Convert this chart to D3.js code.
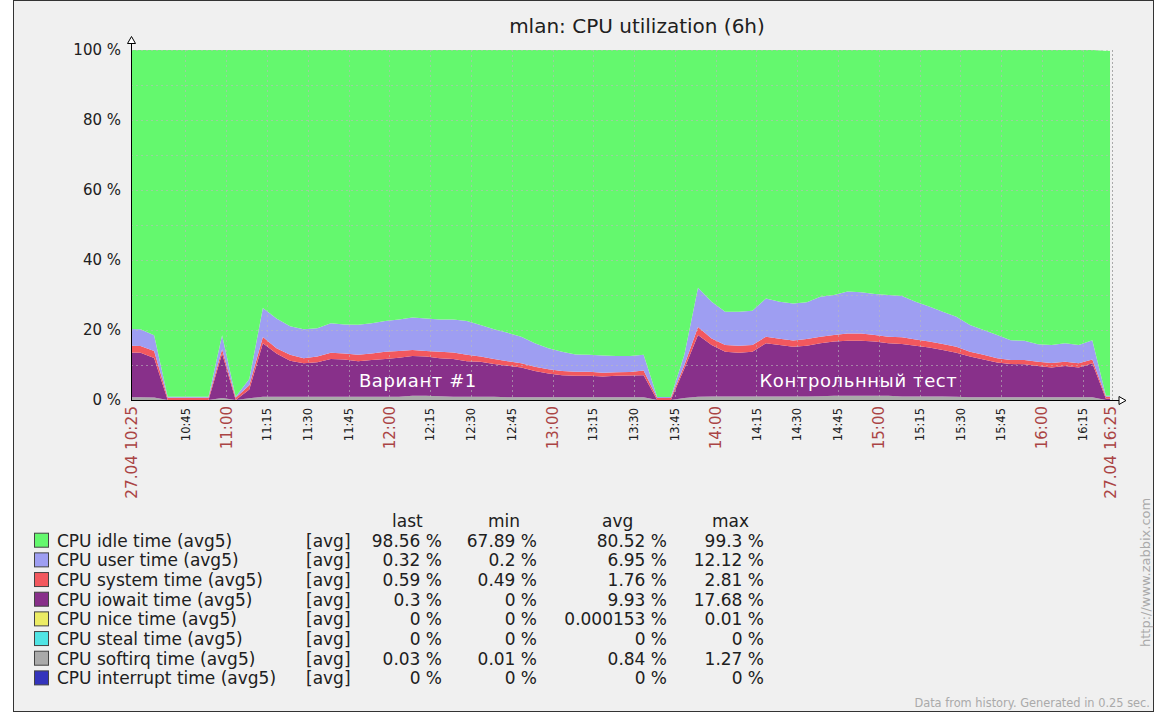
<!DOCTYPE html>
<html>
<head>
<meta charset="utf-8">
<script src="https://cdn.jsdelivr.net/npm/d3@7"></script>
<style>
  body { margin: 0; background: #ffffff; }
  svg { display: block; font-family: "DejaVu Sans", sans-serif; }
</style>
</head>
<body>
<svg id="chart" width="1156" height="715"></svg>
<script>
// ---------------- DATA ----------------
const title = "mlan: CPU utilization (6h)";
const day = "2013-04-27 ";
const rangeStart = "10:25:00";
const rangeEnd = "16:25:00";
const edgeLabels = ["27.04 10:25", "27.04 16:25"];

const times = [
  "10:23:30","10:28:30","10:33:30","10:38:30","10:43:30","10:48:30","10:53:30","10:58:30","11:03:30","11:08:30",
  "11:13:30","11:18:30","11:23:30","11:28:30","11:33:30","11:38:30","11:43:30","11:48:30","11:53:30","11:58:30",
  "12:03:30","12:08:30","12:13:30","12:18:30","12:23:30","12:28:30","12:33:30","12:38:30","12:43:30","12:48:30",
  "12:53:30","12:58:30","13:03:30","13:08:30","13:13:30","13:18:30","13:23:30","13:28:30","13:33:30","13:38:30",
  "13:43:30","13:48:30","13:53:30","13:58:30","14:03:30","14:08:30","14:13:30","14:18:30","14:23:30","14:28:30",
  "14:33:30","14:38:30","14:43:30","14:48:30","14:53:30","14:58:30","15:03:30","15:08:30","15:13:30","15:18:30",
  "15:23:30","15:28:30","15:33:30","15:38:30","15:43:30","15:48:30","15:53:30","15:58:30","16:03:30","16:08:30",
  "16:13:30","16:18:30","16:23:30","16:25:00"
];

const softirq = [
  0.8,0.8,0.7,0.03,0.03,0.03,0.03,0.6,0.03,0.5,
  0.9,0.9,0.9,0.9,0.9,0.9,0.9,0.9,0.9,0.9,
  0.9,1.2,1.25,1.1,0.9,0.9,0.9,0.9,0.8,0.8,
  0.8,0.8,0.8,0.8,0.8,0.8,0.8,0.8,0.8,0.03,
  0.03,0.6,0.9,1.0,1.0,1.0,1.0,1.0,1.0,1.0,
  1.0,1.1,1.2,1.25,1.25,1.2,1.2,1.0,1.0,1.0,
  1.0,0.9,0.8,0.8,0.8,0.8,0.8,0.8,0.8,0.8,
  0.8,0.8,0.03,0.03
];
const iowait = [
  12.8,12.7,11.3,0,0,0,0,12.7,0,2.5,
  15.3,12.4,10.3,9.6,9.9,10.8,10.7,10.2,10.5,10.8,
  11.2,11.4,11.15,10.8,10.8,10.2,10.0,9.4,9.0,8.5,
  7.5,6.8,6.3,6.1,6.1,5.9,6.1,6.2,6.3,0,
  0,8.4,17.68,14.7,12.8,12.5,12.8,15.2,14.7,14.2,
  14.5,15.1,15.5,15.65,15.65,15.5,15.0,15.0,14.5,14.0,
  13.3,12.6,11.6,10.8,9.9,9.5,9.4,8.9,8.5,8.9,
  8.5,9.7,0.3,0.3
];
const system = [
  1.9,1.9,2.0,0.6,0.6,0.6,0.6,1.2,0.6,1.2,
  1.8,1.5,1.7,1.4,1.6,1.8,1.7,1.8,1.9,2.1,
  1.9,1.7,1.6,1.9,1.9,1.8,1.5,1.4,1.3,1.2,
  1.2,1.2,1.2,1.2,1.2,1.1,1.0,1.0,1.3,0.55,
  0.55,1.0,2.3,1.9,1.9,2.0,1.9,1.9,1.8,1.8,
  1.9,1.9,1.9,2.1,2.1,1.9,1.9,1.9,1.8,1.7,
  1.7,1.7,1.4,1.3,1.2,1.1,1.2,1.2,1.3,1.2,
  1.2,1.1,0.59,0.59
];
const user = [
  4.8,4.8,4.5,0.3,0.3,0.3,0.3,4.0,0.3,1.8,
  8.3,8.5,8.2,8.3,8.1,8.4,8.3,8.6,8.6,8.8,
  9.0,9.3,9.3,9.2,9.4,9.7,9.0,8.5,8.1,7.6,
  6.7,6.0,5.5,4.9,4.8,4.9,4.7,4.6,4.5,0.3,
  0.3,3.0,11.2,10.5,9.5,9.7,9.8,10.9,10.6,10.6,
  10.5,11.4,11.4,12.0,11.8,11.7,11.9,11.8,10.8,10.0,
  9.2,8.6,7.6,7.1,6.7,5.7,5.5,5.0,5.1,5.3,
  5.2,5.5,0.32,0.32
];
const idle = [
  79.7,79.8,81.5,99.1,99.1,99.1,99.1,81.5,99.1,94.0,
  73.7,76.7,78.9,79.8,79.5,78.1,78.4,78.5,78.1,77.4,
  77.0,76.4,76.7,77.0,77.0,77.4,78.6,79.8,80.8,81.9,
  83.8,85.2,86.2,87.0,87.1,87.3,87.4,87.4,87.1,99.1,
  99.1,87.0,67.9,71.9,74.8,74.8,74.5,71.0,71.9,72.4,
  72.1,70.5,70.0,69.0,69.2,69.7,70.0,70.3,71.9,73.3,
  74.8,76.2,78.6,80.0,81.4,82.9,83.1,84.1,84.3,83.8,
  84.3,82.9,98.56,98.56
];

const timeTicks = ["10:45","11:00","11:15","11:30","11:45","12:00","12:15","12:30","12:45","13:00",
  "13:15","13:30","13:45","14:00","14:15","14:30","14:45","15:00","15:15","15:30","15:45","16:00","16:15"];
const yTicks = [0, 20, 40, 60, 80, 100];
const yGrid = [10, 20, 30, 40, 50, 60, 70, 80, 90, 100];

const legendNames = ["CPU idle time (avg5)","CPU user time (avg5)","CPU system time (avg5)","CPU iowait time (avg5)",
  "CPU nice time (avg5)","CPU steal time (avg5)","CPU softirq time (avg5)","CPU interrupt time (avg5)"];
const legendLast = [98.56, 0.32, 0.59, 0.3, 0, 0, 0.03, 0];
const legendMin  = [67.89, 0.2, 0.49, 0, 0, 0, 0.01, 0];
const legendAvg  = [80.52, 6.95, 1.76, 9.93, 0.000153, 0, 0.84, 0];
const legendMax  = [99.3, 12.12, 2.81, 17.68, 0.01, 0, 1.27, 0];
const legendColors = ["#64F86E","#9E9EF2","#F2585E","#88308A","#ECEC64","#50E4E4","#AAAAAA","#3434BC"];

const annotations = [
  { text: "Вариант #1", at: "12:10:30" },
  { text: "Контрольнный тест", at: "14:52:30" }
];

// ---------------- CHART ----------------
const svg = d3.select("#chart");
const parse = d3.timeParse("%Y-%m-%d %H:%M:%S");
const L = 131, R = 1110, T = 50, B = 400;

const x = d3.scaleTime().domain([parse(day + rangeStart), parse(day + rangeEnd)]).range([L, R]);
const y = d3.scaleLinear().domain([0, 100]).range([B, T]);

// frame
svg.append("rect").attr("x", 13.5).attr("y", 0.5).attr("width", 1140).attr("height", 711)
  .attr("fill", "#F0F0F0").attr("stroke", "#333");

// title
svg.append("text").attr("x", 637).attr("y", 33).attr("text-anchor", "middle")
  .attr("font-size", 20).attr("fill", "#202020").text(title);

// plot background
svg.append("rect").attr("x", L).attr("y", T).attr("width", R - L).attr("height", B - T).attr("fill", "#fff");

svg.append("clipPath").attr("id", "clip").append("rect")
  .attr("x", L).attr("y", T).attr("width", R - L).attr("height", B - T);

const rows = times.map((t, i) => ({
  t: parse(day + t), softirq: softirq[i], iowait: iowait[i], system: system[i], user: user[i], idle: idle[i]
}));
const keys = ["softirq", "iowait", "system", "user", "idle"];
const colorOf = { idle: legendColors[0], user: legendColors[1], system: legendColors[2], iowait: legendColors[3], softirq: legendColors[6] };
const stacked = d3.stack().keys(keys)(rows);
const area = d3.area().x(d => x(d.data.t)).y0(d => y(d[0])).y1(d => y(d[1]));

svg.append("g").attr("clip-path", "url(#clip)")
  .selectAll("path").data(stacked).join("path")
  .attr("d", area).attr("fill", d => colorOf[d.key]);

// grid
const grid = svg.append("g").attr("stroke", "#bbbbbb").attr("stroke-opacity", 0.6)
  .attr("stroke-dasharray", "2,3").attr("shape-rendering", "crispEdges");
grid.selectAll("line.h").data(yGrid).join("line")
  .attr("x1", L).attr("x2", R).attr("y1", d => Math.round(y(d)) + 0.5).attr("y2", d => Math.round(y(d)) + 0.5);
grid.selectAll("line.v").data(timeTicks).join("line")
  .attr("x1", d => Math.round(x(parse(day + d + ":00"))) + 0.5).attr("x2", d => Math.round(x(parse(day + d + ":00"))) + 0.5)
  .attr("y1", T).attr("y2", B);
svg.append("line").attr("x1", R + 2.5).attr("x2", R + 2.5).attr("y1", T).attr("y2", B)
  .attr("stroke", "#aaa").attr("stroke-dasharray", "2,2");

// annotations
svg.append("g").selectAll("text").data(annotations).join("text")
  .attr("x", d => x(parse(day + d.at))).attr("y", 387).attr("text-anchor", "middle")
  .attr("font-size", 18).attr("letter-spacing", 0.6).attr("fill", "#ffffff").text(d => d.text);

// axes
const ax = svg.append("g").attr("stroke", "#000").attr("fill", "none");
ax.append("line").attr("x1", L + 0.5).attr("x2", L + 0.5).attr("y1", B + 0.5).attr("y2", 43);
ax.append("line").attr("x1", L).attr("x2", 1119).attr("y1", B + 0.5).attr("y2", B + 0.5);
ax.append("path").attr("d", `M${L - 3.5},43.5 L${L + 4.5},43.5 L${L + 0.5},36.5 Z`).attr("fill", "#fff");
ax.append("path").attr("d", `M1119,396.5 L1119,404.5 L1126,400.5 Z`).attr("fill", "#fff");

// y labels
svg.append("g").selectAll("text").data(yTicks).join("text")
  .attr("x", 121).attr("y", d => y(d)).attr("dy", "0.36em").attr("text-anchor", "end")
  .attr("font-size", 15).attr("fill", "#202020").text(d => d + " %");

// x labels
const xl = svg.append("g");
xl.selectAll("text").data(timeTicks).join("text")
  .attr("transform", d => `translate(${x(parse(day + d + ":00"))},${d.endsWith(":00") ? 406 : 408}) rotate(-90)`)
  .attr("text-anchor", "end").attr("dy", "0.36em")
  .attr("font-size", d => d.endsWith(":00") ? 15 : 11.5)
  .attr("fill", d => d.endsWith(":00") ? "#AA4444" : "#202020")
  .text(d => d);
xl.selectAll("text.edge").data(edgeLabels).join("text").attr("class", "edge")
  .attr("transform", (d, i) => `translate(${x(parse(day + (i === 0 ? rangeStart : rangeEnd)))},406) rotate(-90)`)
  .attr("text-anchor", "end").attr("dy", "0.36em")
  .attr("font-size", 15.3).attr("fill", "#AA4444").text(d => d);

// legend
const lg = svg.append("g").attr("font-size", 17).attr("fill", "#202020");
const headers = [["last", 392], ["min", 488], ["avg", 602], ["max", 712]];
lg.selectAll("text.hd").data(headers).join("text").attr("class", "hd")
  .attr("x", d => d[1]).attr("y", 526.5).text(d => d[0]);
const rowY = i => 546.7 + 19.67 * i;
const lrow = lg.selectAll("g.row").data(legendNames).join("g").attr("class", "row");
lrow.append("rect").attr("x", 34.5).attr("y", (d, i) => rowY(i) - 13.5).attr("width", 14).attr("height", 14)
  .attr("fill", (d, i) => legendColors[i]).attr("stroke", "#444");
lrow.append("text").attr("x", 57).attr("y", (d, i) => rowY(i)).text(d => d);
lrow.append("text").attr("x", 306).attr("y", (d, i) => rowY(i)).text("[avg]");
const cols = [[legendLast, 442], [legendMin, 537], [legendAvg, 667], [legendMax, 764]];
cols.forEach(([arr, cx]) => {
  lrow.append("text").attr("x", cx).attr("y", (d, i) => rowY(i)).attr("text-anchor", "end")
    .text((d, i) => arr[i] + " %");
});

// footer
svg.append("text").attr("x", 1150).attr("y", 707).attr("text-anchor", "end")
  .attr("font-size", 11.4).attr("fill", "#aaaaaa").text("Data from history. Generated in 0.25 sec.");
svg.append("text").attr("transform", "translate(1150,647) rotate(-90)")
  .attr("font-size", 13).attr("fill", "#aaaaaa").text("http://www.zabbix.com");
</script>
</body>
</html>
